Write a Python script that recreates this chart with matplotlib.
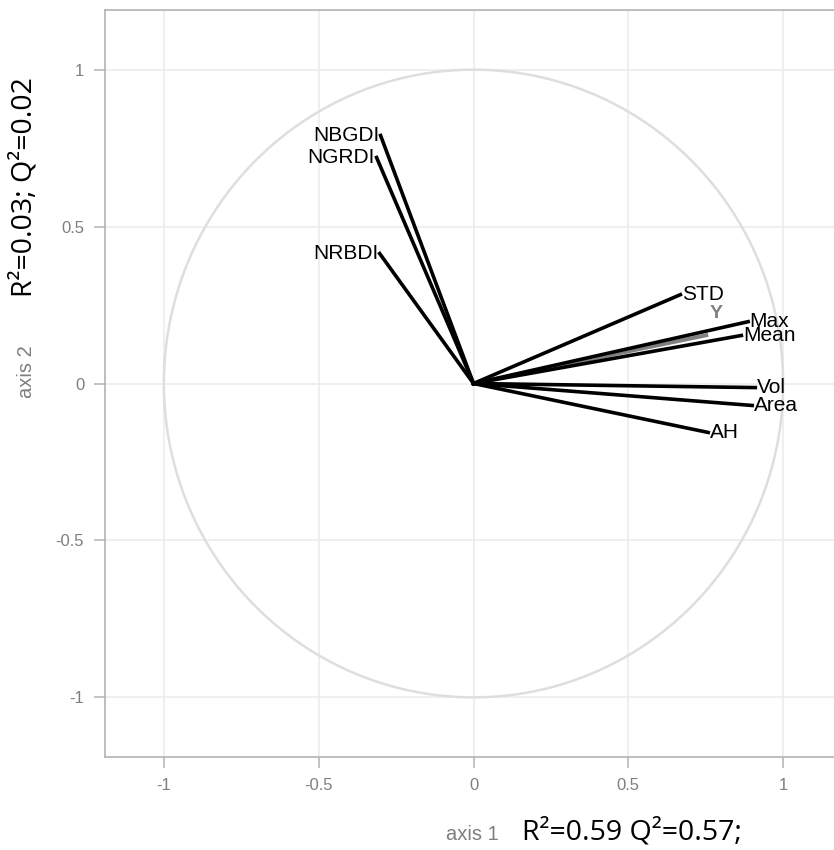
import matplotlib
matplotlib.use('Agg')
import matplotlib.pyplot as plt
import numpy as np

plt.rc('font', family=['Liberation Sans', 'DejaVu Sans'])

# loadings (axis 1, axis 2)
left_names = ['NBGDI', 'NGRDI', 'NRBDI']
left_x = [-0.300, -0.313, -0.303]
left_y = [0.790, 0.720, 0.414]

right_names = ['STD', 'Max', 'Mean', 'Vol', 'Area', 'AH']
right_x = [0.668, 0.887, 0.865, 0.910, 0.900, 0.758]
right_y = [0.283, 0.197, 0.153, -0.013, -0.070, -0.156]

resp_name = 'Y'
resp_x = 0.758
resp_y = 0.155

ticks = [-1, -0.5, 0, 0.5, 1]
tick_labels = ['-1', '-0.5', '0', '0.5', '1']

W, H = 834, 850
fig = plt.figure(figsize=(W / 100, H / 100), dpi=100)
ax = fig.add_axes([105 / W, (H - 757) / H, (842 - 105) / W, (757 - 10) / H])

grid_c = '#ebebeb'
for t in ticks:
    ax.axvline(t, color=grid_c, lw=1.1, zorder=0)
    ax.axhline(t, color=grid_c, lw=1.1, zorder=0)

th = np.linspace(0, 2 * np.pi, 400)
ax.plot(np.cos(th), np.sin(th), color='#dedede', lw=1.8, zorder=1)

# response vector
ax.plot([0, resp_x], [0, resp_y], color='#808080', lw=2.8, zorder=2,
        solid_capstyle='butt')
ax.text(resp_x + 0.025, resp_y + 0.068, resp_name, color='#808080',
        fontsize=14, fontweight='bold', ha='center', va='center', zorder=4)

for n, x, y in zip(left_names, left_x, left_y):
    ax.plot([0, x], [0, y], color='black', lw=2.6, zorder=3)
    ax.text(x - 0.005, y, n, ha='right', va='center', fontsize=15, zorder=4)

for n, x, y in zip(right_names, right_x, right_y):
    ax.plot([0, x], [0, y], color='black', lw=2.6, zorder=3)
    ax.text(x + 0.005, y, n, ha='left', va='center', fontsize=15, zorder=4)

ax.set_xlim(-1.19, 1.19)
ax.set_ylim(-1.19, 1.19)
ax.set_xticks(ticks)
ax.set_xticklabels(tick_labels)
ax.set_yticks(ticks)
ax.set_yticklabels(tick_labels)
ax.tick_params(colors='#b3b3b3', labelcolor='#7f7f7f', labelsize=12,
               length=8, width=1.1, pad=7)
for s in ['left', 'bottom', 'top']:
    ax.spines[s].set_color('#b3b3b3')
    ax.spines[s].set_linewidth(1.2)
ax.spines['right'].set_visible(False)

# axis titles
fig.text(472 / W, 1 - 834 / H, 'axis 1', color='#7f7f7f', fontsize=14.5,
         ha='center', va='center')
fig.text(632 / W, 1 - 832 / H, 'R²=0.59 Q²=0.57;', color='black',
         fontsize=20.5, family=['Open Sans', 'DejaVu Sans'],
         ha='center', va='center')
fig.text(27 / W, 1 - 372 / H, 'axis 2', color='#7f7f7f', fontsize=14.5,
         rotation=90, ha='center', va='center')
fig.text(24 / W, 1 - 187 / H, 'R²=0.03; Q²=0.02', color='black',
         fontsize=20.5, family=['Open Sans', 'DejaVu Sans'],
         rotation=90, ha='center', va='center')

fig.savefig('out.png', dpi=100)
